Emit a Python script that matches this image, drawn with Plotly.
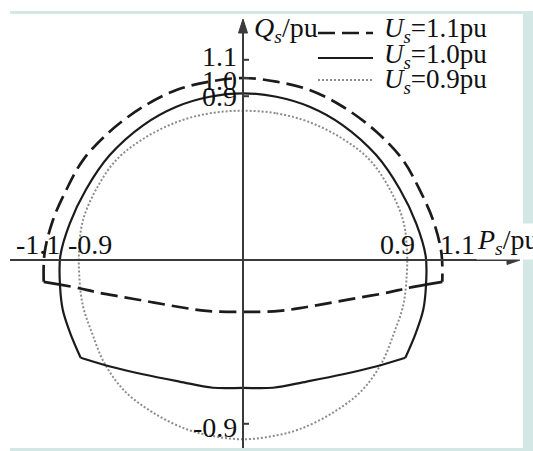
import plotly.graph_objects as go

# Operating limits of the stator P-Q capability for three stator voltages (pu)
us11_arc_p = [-1.095, -1.09, -1.044, -0.971, -0.879, -0.733, -0.549, -0.366, -0.183, 0.0,
              0.183, 0.366, 0.549, 0.733, 0.879, 0.971, 1.044, 1.09, 1.095]
us11_arc_q = [-0.12, 0.04, 0.22, 0.385, 0.549, 0.705, 0.842, 0.934, 0.98, 1.0,
              0.98, 0.934, 0.842, 0.705, 0.549, 0.385, 0.22, 0.04, -0.12]
us11_low_p = [1.005, 0.9, 0.8, 0.65, 0.5, 0.35, 0.2, 0.0, -0.2, -0.35, -0.5, -0.65, -0.8, -0.9, -1.005]
us11_low_q = [-0.135, -0.155, -0.178, -0.205, -0.232, -0.258, -0.28, -0.285, -0.28, -0.258, -0.232,
              -0.205, -0.178, -0.155, -0.135]

us10_arc_p = [-0.892, -0.949, -0.99, -1.005, -1.004, -0.952, -0.861, -0.733, -0.549, -0.366, -0.183, 0.0,
              0.183, 0.366, 0.549, 0.733, 0.861, 0.952, 1.004, 1.005, 0.99, 0.949, 0.892]
us10_arc_q = [-0.537, -0.403, -0.275, -0.147, 0.02, 0.2, 0.39, 0.575, 0.74, 0.842, 0.897, 0.916,
              0.897, 0.842, 0.74, 0.575, 0.39, 0.2, 0.02, -0.147, -0.275, -0.403, -0.537]
us10_low_p = [0.892, 0.73, 0.55, 0.35, 0.165, 0.0, -0.165, -0.35, -0.55, -0.73, -0.892]
us10_low_q = [-0.537, -0.585, -0.628, -0.668, -0.702, -0.703, -0.702, -0.668, -0.628, -0.585, -0.537]

us09_p = [0.0, 0.183, 0.366, 0.549, 0.696, 0.806, 0.879, 0.9, 0.9, 0.88, 0.83, 0.765, 0.655, 0.5, 0.31, 0.15,
          0.0, -0.15, -0.31, -0.5, -0.655, -0.765, -0.83, -0.88, -0.9, -0.9, -0.879, -0.806, -0.696, -0.549,
          -0.366, -0.183, 0.0]
us09_q = [0.82, 0.806, 0.757, 0.665, 0.55, 0.39, 0.22, 0.07, -0.08, -0.25, -0.40, -0.56, -0.715, -0.835, -0.93,
          -0.97, -0.985, -0.97, -0.93, -0.835, -0.715, -0.56, -0.40, -0.25, -0.08, 0.07, 0.22, 0.39, 0.55, 0.665,
          0.757, 0.806, 0.82]

legend_labels = ["<i>U</i><sub><i>s</i></sub>=1.1pu", "<i>U</i><sub><i>s</i></sub>=1.0pu",
                 "<i>U</i><sub><i>s</i></sub>=0.9pu"]
x_ticks = [-1.1, -0.9, 0.9, 1.1]
x_tick_text = ["-1.1", "-0.9", "0.9", "1.1"]
y_ticks = [1.1, 1.0, 0.9, -0.9]
y_tick_text = ["1.1", "1.0", "0.9", "-0.9"]

W, H = 533, 451
OX, OY, S = 243.0, 260.0, 182.0   # pixel origin and pixels per pu


def dx(px):
    return (px - OX) / S


def dy(py):
    return (OY - py) / S


def xp(px):
    return px / W


def yp(py):
    return 1 - py / H


FONT = "Liberation Serif"
INK = "#1b1b1b"
DASH = dict(color=INK, width=2.7, dash="17px,7px")
SOLID = dict(color=INK, width=2.2)
DOT = dict(color="#8c8c8c", width=2, dash="2px,2px")

fig = go.Figure()


def add_line(p, q, line, shape="spline"):
    fig.add_trace(go.Scatter(x=p, y=q, mode="lines", line=dict(shape=shape, smoothing=1.0, **line),
                             hoverinfo="skip", showlegend=False))


# Us = 0.9 pu
add_line(us09_p, us09_q, DOT)
# Us = 1.0 pu
add_line(us10_arc_p, us10_arc_q, SOLID)
add_line(us10_low_p, us10_low_q, SOLID)
# Us = 1.1 pu
add_line(us11_arc_p, us11_arc_q, DASH)
add_line(us11_low_p, us11_low_q, DASH)
add_line([us11_arc_p[-1], us11_low_p[0]], [us11_arc_q[-1], us11_low_q[0]], DASH, "linear")
add_line([us11_arc_p[0], us11_low_p[-1]], [us11_arc_q[0], us11_low_q[-1]], DASH, "linear")

shapes = []
TEAL = "#d3e7e5"
# frame bands
shapes.append(dict(type="rect", xref="paper", yref="paper", x0=xp(10), x1=1, y0=yp(14), y1=yp(11),
                   fillcolor=TEAL, line_width=0, layer="below"))
shapes.append(dict(type="rect", xref="paper", yref="paper", x0=xp(523), x1=1, y0=0, y1=yp(11),
                   fillcolor=TEAL, line_width=0, layer="below"))
shapes.append(dict(type="rect", xref="paper", yref="paper", x0=xp(10), x1=1, y0=0, y1=yp(448),
                   fillcolor=TEAL, line_width=0, layer="below"))

AX = "#3a3a3a"
# axes with arrowheads
shapes.append(dict(type="line", x0=dx(10), x1=dx(510), y0=0, y1=0, line=dict(color=AX, width=2)))
shapes.append(dict(type="path", path=f"M {dx(507)},{dy(255.5)} L {dx(520)},{dy(260)} L {dx(507)},{dy(264.5)} Z",
                   fillcolor=AX, line=dict(color=AX, width=1)))
shapes.append(dict(type="line", x0=0, x1=0, y0=dy(448), y1=dy(30), line=dict(color=AX, width=2)))
shapes.append(dict(type="path", path=f"M {dx(238.5)},{dy(33)} L {dx(243)},{dy(19)} L {dx(247.5)},{dy(33)} Z",
                   fillcolor=AX, line=dict(color=AX, width=1)))
for t in y_ticks:
    shapes.append(dict(type="line", x0=0, x1=dx(249), y0=t, y1=t, line=dict(color=AX, width=2)))

# legend samples
legend_rows = [33, 58, 80]
legend_styles = [DASH, SOLID, DOT]
for row, st in zip(legend_rows, legend_styles):
    shapes.append(dict(type="line", xref="paper", yref="paper", x0=xp(318), x1=xp(373), y0=yp(row), y1=yp(row),
                       line=st))

ann = []
txt = dict(family=FONT, size=28, color="#111111")
leg_txt = dict(family=FONT, size=27, color="#111111")
for t, s, sh in zip(x_ticks, x_tick_text, [-5, 11, -9, 14]):
    ann.append(dict(x=t, y=0, text=s, showarrow=False, xanchor="center", yanchor="middle",
                    xshift=sh, yshift=16, font=txt))
for t, s, sh in zip(y_ticks, y_tick_text, [3, -2, 0, -4]):
    ann.append(dict(x=0, y=t, text=s, showarrow=False, xanchor="right", yanchor="middle",
                    xshift=-4, yshift=sh, font=txt))
for row, lab in zip([30, 56, 81], legend_labels):
    ann.append(dict(x=xp(382), y=yp(row), xref="paper", yref="paper", text=lab, showarrow=False,
                    xanchor="left", yanchor="middle", font=leg_txt))
ann.append(dict(x=xp(252), y=yp(29), xref="paper", yref="paper", text="<i>Q</i><sub><i>s</i></sub>/pu",
                showarrow=False, xanchor="left", yanchor="middle", font=txt))
ann.append(dict(x=xp(476), y=yp(241), xref="paper", yref="paper", text="<i>P</i><sub><i>s</i></sub>/pu",
                showarrow=False, xanchor="left", yanchor="middle", font=txt, bgcolor="white", borderpad=0))

fig.update_layout(
    width=W, height=H, autosize=False,
    margin=dict(l=0, r=0, t=0, b=0, pad=0),
    paper_bgcolor="white", plot_bgcolor="white",
    xaxis=dict(range=[dx(0), dx(W)], visible=False, fixedrange=True),
    yaxis=dict(range=[dy(H), dy(0)], visible=False, fixedrange=True),
    shapes=shapes, annotations=ann, showlegend=False,
)

fig.write_html("out.html", config={"displayModeBar": False})
